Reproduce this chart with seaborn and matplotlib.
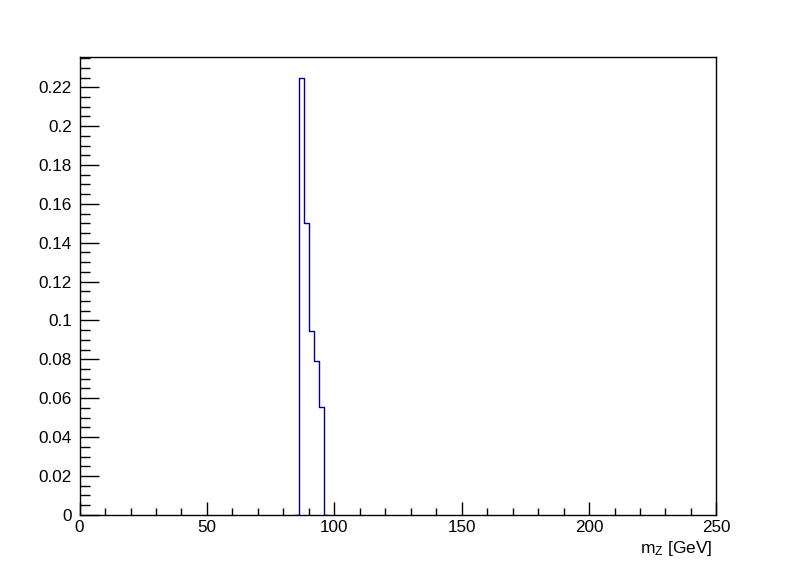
import matplotlib

matplotlib.use("Agg")
import matplotlib.pyplot as plt
import pandas as pd
import seaborn as sns
from matplotlib.ticker import FuncFormatter, MultipleLocator

# Histogram content (bin edges in GeV, normalised entries)
bin_edges = [86, 88, 90, 92, 94, 96]
bin_values = [0.2247, 0.1503, 0.0944, 0.0790, 0.0556]

sns.set_style("ticks")
plt.rcParams["font.family"] = ["Liberation Sans", "DejaVu Sans"]
plt.rcParams["mathtext.default"] = "regular"

# one empty bin on each side so the outline drops back to zero like ROOT does
width = bin_edges[1] - bin_edges[0]
edges = [bin_edges[0] - width] + bin_edges + [bin_edges[-1] + width]
weights = [0.0] + bin_values + [0.0]
centers = [(a + b) / 2 for a, b in zip(edges[:-1], edges[1:])]
df = pd.DataFrame({"mz": centers, "w": weights})

fig = plt.figure(figsize=(7.96, 5.72), dpi=100)
ax = fig.add_axes([0.1, 0.1, 0.8, 0.8])

sns.histplot(
    data=df, x="mz", weights="w", bins=edges,
    element="step", fill=False, color="#000099", linewidth=1.0, ax=ax,
)

ax.set_xlim(0, 250)
ax.set_ylim(0, 0.2355)
ax.set_xlabel("")
ax.set_ylabel("")

for side in ["top", "right", "left", "bottom"]:
    ax.spines[side].set_visible(True)
    ax.spines[side].set_linewidth(1.0)
    ax.spines[side].set_color("black")
    ax.spines[side].set_zorder(5)

ax.xaxis.set_major_locator(MultipleLocator(50))
ax.xaxis.set_minor_locator(MultipleLocator(10))
ax.yaxis.set_major_locator(MultipleLocator(0.02))
ax.yaxis.set_minor_locator(MultipleLocator(0.005))
fmt = FuncFormatter(lambda v, p: f"{round(v, 6):g}")
ax.yaxis.set_major_formatter(fmt)
ax.xaxis.set_major_formatter(fmt)

ax.tick_params(axis="both", which="both", direction="in", top=False, right=False,
               labelsize=12.3, color="black", labelcolor="black", width=1.0)
ax.tick_params(axis="y", which="major", length=13.7, pad=5.5)
ax.tick_params(axis="y", which="minor", length=7.2)
ax.tick_params(axis="x", which="major", length=9.4, pad=3.5)
ax.tick_params(axis="x", which="minor", length=4.8)

fig.text(713 / 796, 1 - 552.5 / 572, "m$_{Z}$ [GeV]", ha="right", va="baseline",
         fontsize=12.5, color="black")

fig.savefig("out.png", dpi=100, facecolor="white")
